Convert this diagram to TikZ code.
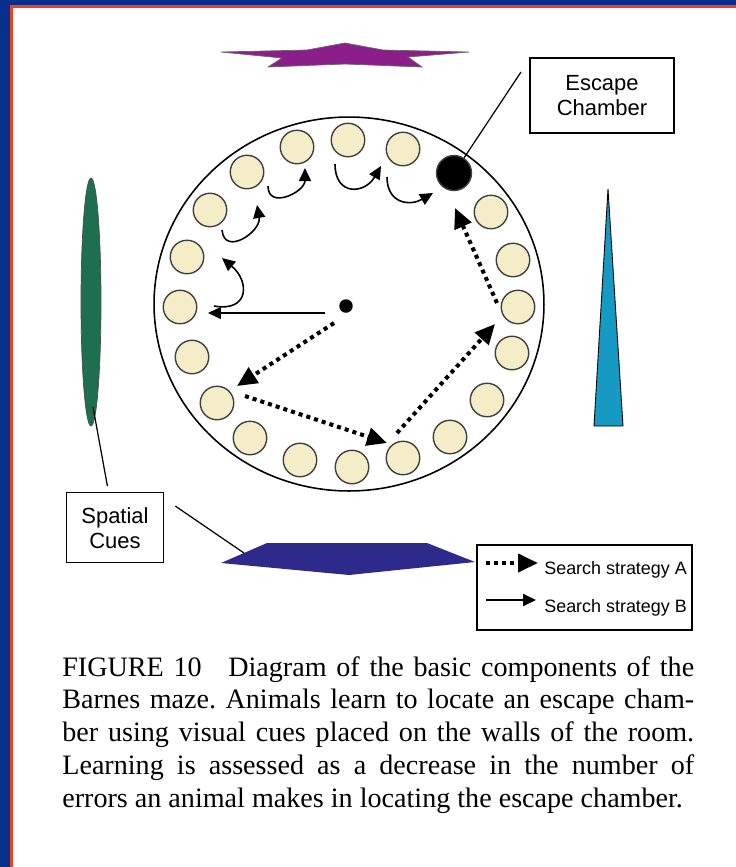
\documentclass[tikz,border=0pt]{standalone}
\usepackage{fontspec}
\setmainfont{Liberation Serif}
\setsansfont{Liberation Sans}
\usetikzlibrary{arrows.meta, calc}

\definecolor{frameblue}{RGB}{4,48,140}
\definecolor{framered}{RGB}{236,66,34}
\definecolor{holecream}{RGB}{245,237,200}
\definecolor{cuepurple}{RGB}{140,30,140}
\definecolor{cuegreen}{RGB}{30,110,80}
\definecolor{cuecyan}{RGB}{22,154,196}
\definecolor{cueblue}{RGB}{46,42,140}

\begin{document}
\frenchspacing
\begin{tikzpicture}[
  x=0.02cm, y=0.02cm,
  hole/.style={
    circle, draw=black!75, fill=holecream, line width=0.8pt,
    minimum size=0.67cm, inner sep=0pt
  },
  label/.style={
    rectangle, draw=black, line width=0.7pt, align=center,
    font=\sffamily\fontsize{12.5}{14.2}\selectfont
  },
  stratA/.style={line width=2.3pt, dash pattern=on 2.3pt off 2.3pt,
    -{Triangle[length=0.4cm, width=0.36cm]}},
  stratB/.style={line width=0.9pt, -{Triangle[length=0.26cm, width=0.24cm]}},
  pointer/.style={line width=0.7pt},
  legendtext/.style={anchor=west, inner sep=0pt,
    font=\sffamily\fontsize{10.2}{12}\selectfont},
  caption/.style={text width=12.64cm, align=justify, inner sep=0pt,
    font=\fontsize{16}{18.64}\selectfont}
]
  \useasboundingbox (0,0) rectangle (736,-867);
  \fill[white] (0,0) rectangle (736,-867);

  % Frame
  \fill[frameblue] (0,0) rectangle (10,-867);
  \fill[frameblue] (0,0) rectangle (736,-5);
  \draw[framered, line width=0.05cm] (11.3,-867) -- (11.3,-6.3) -- (736,-6.3);

  % Cues on the walls
  \fill[cuepurple, draw=black!60, line width=0.4pt]
    (221,-52) -- (307,-50) -- (345,-43) -- (383,-50) -- (469,-52)
    -- (408,-57) -- (422,-67) -- (345,-64) -- (268,-67) -- (282,-58) -- cycle;
  \fill[cuegreen, draw=black!70, line width=0.4pt]
    (91,-302) ellipse [x radius=0.2cm, y radius=2.48cm];
  \fill[cuecyan, draw=black, line width=0.5pt]
    (608,-189) -- (623,-426) -- (594,-426) -- cycle;
  \fill[cueblue]
    (221,-563) -- (267,-543) -- (427,-543) -- (475,-562) -- (349,-575) -- cycle;

  % Maze
  \draw[line width=0.9pt, fill=white] (349,-304) ellipse [x radius=3.9cm, y radius=3.74cm];

  % Holes
  \foreach \n/\px/\py in {1/348/140, 2/403/149, 4/491/212, 5/513/260,
      6/518/307, 7/512/353, 8/487/400, 9/450/437, 10/403/458, 11/352/467,
      12/300/460, 13/250/438, 14/217/403, 15/192/357, 16/180/307,
      17/187/257, 18/210/210, 19/247/172, 20/297/147}
    \node[hole] (h\n) at (\px,-\py) {};
  \node[hole, fill=black, minimum size=0.7cm] (goal) at (454,-173) {};
  \node[circle, fill=black, minimum size=0.27cm, inner sep=0pt] (start) at (346,-306) {};

  % Labels
  \node[label, minimum width=2.88cm, minimum height=1.5cm] (escape) at (602,-95.5) {Escape\\Chamber};
  \node[label, minimum width=1.95cm, minimum height=1.4cm] (spatial) at (115,-527.7) {Spatial\\Cues};

  \coordinate (escout) at (521,-72);
  \coordinate (greenfoot) at (93,-407);
  \coordinate (spatialside) at ($(spatial.north east)+(11,-14)$);
  \coordinate (bluetouch) at (244,-553);

  \draw[pointer] (escout) -- (goal);
  \draw[pointer, shorten >=0.12cm] (greenfoot) -- (spatial);
  \draw[pointer] (spatialside) -- (bluetouch);

  % Search strategy A
  \draw[stratA] ($(start)+(-12,-17)$) -- ($(h14)+(20,17)$);
  \draw[stratA] ($(h14)+(28,7)$) -- ($(h10)+(-16,15)$);
  \draw[stratA] ($(h10)+(-6,25)$) -- ($(h6)+(-23,-17)$);
  \draw[stratA] ($(h6)+(-21,4)$) -- ($(goal)+(1,-35)$);

  % Search strategy B
  \draw[stratB] ($(start)+(-21,-7)$) -- ($(h16)+(28,-6)$);
  \draw[stratB] ($(h16)+(34,1)$) to[out=-10, in=-40, looseness=1.9] ($(h17)+(35,-1)$);
  \draw[stratB] ($(h18)+(12,-20)$) to[out=-85, in=-80, looseness=1.6] ($(h19)+(10,-33)$);
  \draw[stratB] ($(h19)+(21,-14)$) to[out=-90, in=-90, looseness=1.5] ($(h20)+(8,-21)$);
  \draw[stratB] ($(h1)+(-13,-24)$) to[out=-90, in=-120, looseness=1.8] ($(h2)+(-22,-17)$);
  \draw[stratB] ($(h2)+(-16,-28)$) to[out=-90, in=-150, looseness=1.4] ($(goal)+(-21,-20)$);

  % Legend
  \node[draw, line width=0.7pt, minimum width=4.3cm, minimum height=1.7cm, inner sep=0pt]
    (legend) at (584.5,-587.5) {};
  \coordinate (legAin) at (486,-563);
  \coordinate (legAout) at (538,-563);
  \coordinate (legBin) at (486,-600);
  \coordinate (legBout) at (536,-600);
  \draw[stratA] (legAin) -- (legAout);
  \draw[stratB, line width=1.1pt] (legBin) -- (legBout);
  \node[legendtext] (legA) at (544,-570) {Search strategy A};
  \node[legendtext] (legB) at (544,-608) {Search strategy B};

  % Caption
  \node[caption, anchor=north west] (cap) at (62,-656)
    {FIGURE 10\hspace{0.6em} Diagram of the basic components of the\linebreak
     Barnes maze. Animals learn to locate an escape cham-\linebreak
     ber using visual cues placed on the walls of the room.\linebreak
     Learning is assessed as a decrease in the number of\linebreak
     errors an animal makes in locating the escape chamber.};
\end{tikzpicture}
\end{document}
